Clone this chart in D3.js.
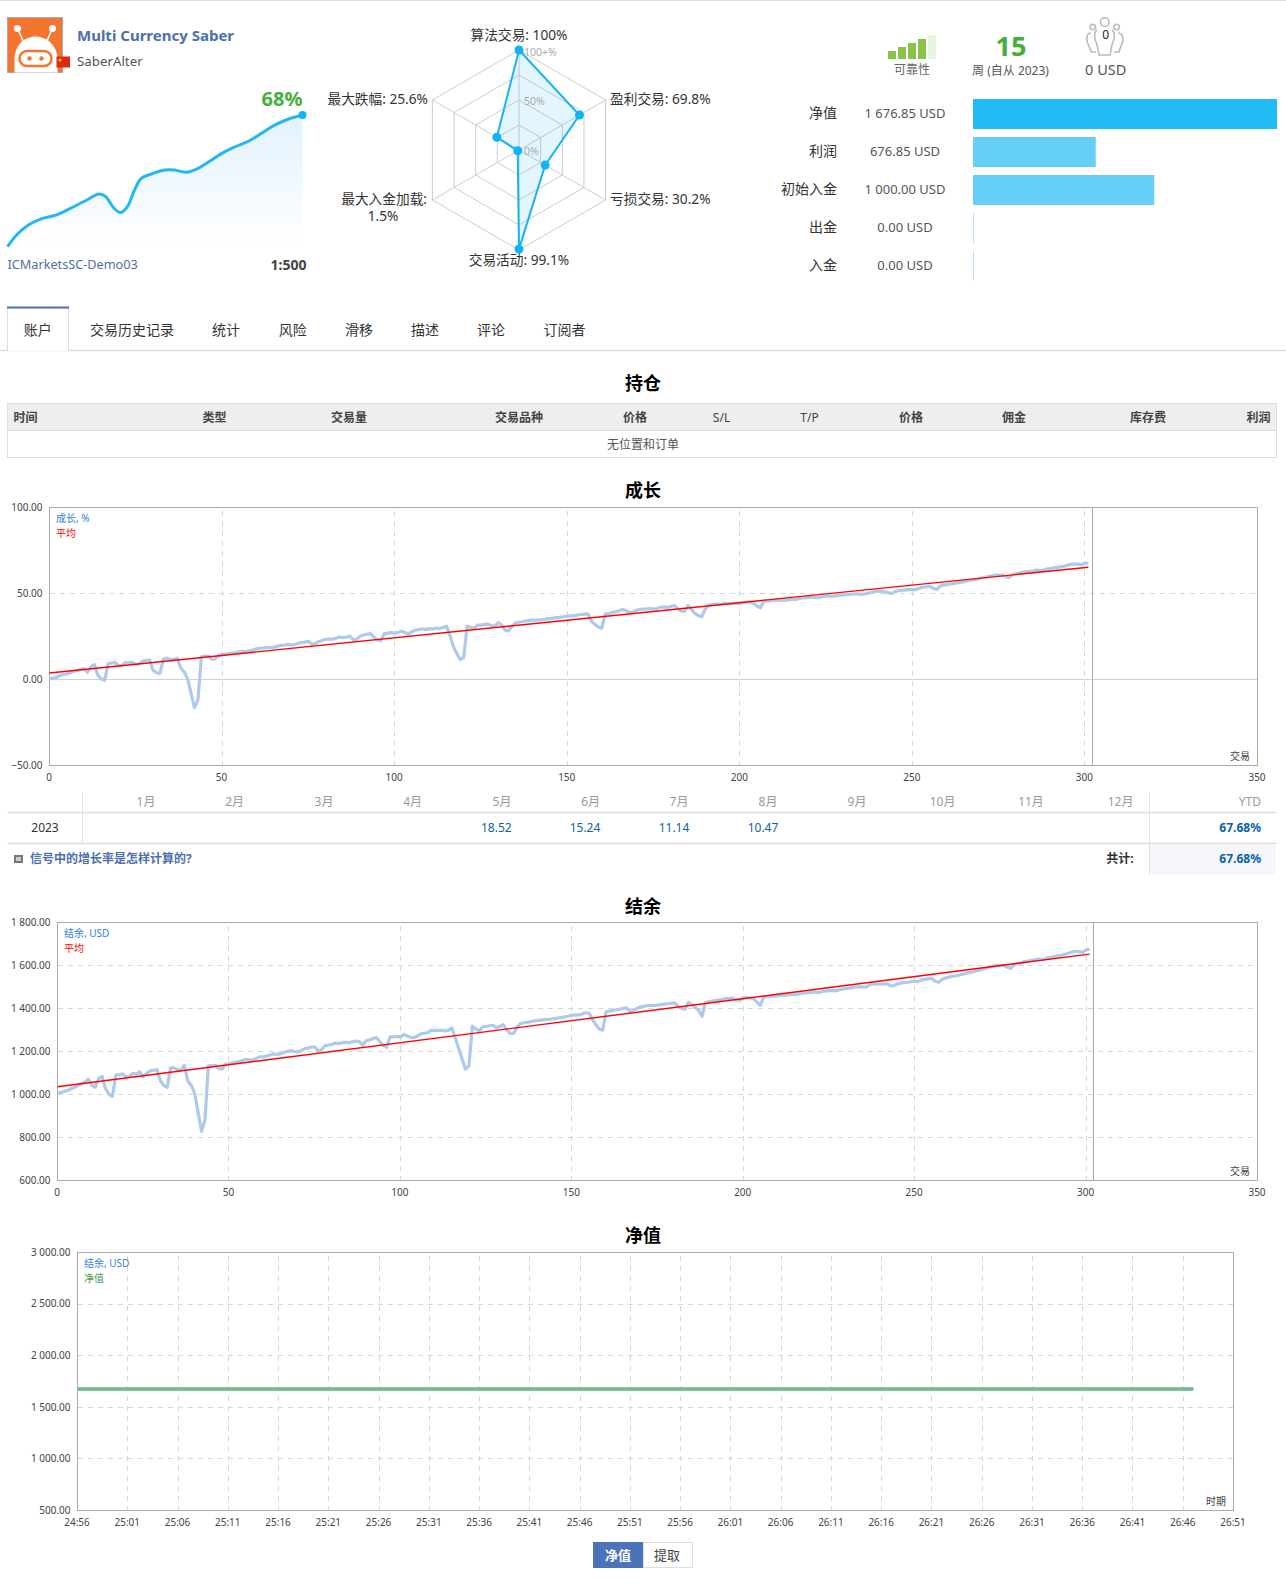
<!DOCTYPE html>
<html>
<head>
<meta charset="utf-8">
<script src="https://cdn.jsdelivr.net/npm/d3@7"></script>
<style>
	html, body { margin: 0; padding: 0; background: #fff; }
	svg { display: block; }
	text { font-family: "Noto Sans", "Noto Sans CJK SC", sans-serif; }
</style>
</head>
<body>
<div id="datavis"></div>
<script>

// Header
var signalTitle = "Multi Currency Saber";
var signalAuthor = "SaberAlter";
var signalServer = "ICMarketsSC-Demo03";
var signalLeverage = "1:500";
var signalGrowth = "68%";

// Sparkline (week, growth %)
var sparkWeeks = [0, 0.46, 1.06, 1.78, 2.5, 3.2, 3.94, 4.66, 5, 5.38, 5.74, 6.1, 6.46, 6.8, 7.3, 8, 8.5, 9.1, 9.7, 10.3, 10.9, 11.5, 12.3, 12.9, 13.5, 14.26, 15];
var sparkValues = [0, 6, 11.2, 14.6, 16.4, 19.8, 23.6, 27.2, 25.8, 20.3, 17.6, 20.7, 29.3, 35.3, 37.5, 39.6, 39.6, 38.4, 40.5, 44.2, 48.2, 51.3, 54.7, 58.5, 62.3, 65.8, 68];

// Radar
var radarLabels = ["算法交易: 100%", "盈利交易: 69.8%", "亏损交易: 30.2%", "交易活动: 99.1%", "最大入金加载:", "最大跌幅: 25.6%"];
var radarValues = [100, 69.8, 30.2, 99.1, 1.5, 25.6];
var radarRings = [25, 50, 75, 100];

// Reliability and counters
var reliabilityLevels = [2, 3, 4, 5, 6];
var balanceNames = ["净值", "利润", "初始入金", "出金", "入金"];
var balanceTexts = ["1 676.85 USD", "676.85 USD", "1 000.00 USD", "0.00 USD", "0.00 USD"];
var balanceAmounts = [1676.85, 676.85, 1000, 0, 0];

// Tabs and positions table
var tabNames = ["账户", "交易历史记录", "统计", "风险", "滑移", "描述", "评论", "订阅者"];
var tableHeads = ["时间", "类型", "交易量", "交易品种", "价格", "S/L", "T/P", "价格", "佣金", "库存费", "利润"];

// Monthly table
var monthNames = ["1月", "2月", "3月", "4月", "5月", "6月", "7月", "8月", "9月", "10月", "11月", "12月"];
var monthValues = ["", "", "", "", "18.52", "15.24", "11.14", "10.47", "", "", "", ""];

// Growth chart, one value per trade
var growthValues = [
	0.5, 0.8, 1.2, 2.3, 2.9, 3.2, 3.9, 4.8, 5.2, 5.8,
	6.4, 4.2, 7.4, 8.7, 2.5, 0.3, -0.4, 9.3, 9.5, 9.9,
	8, 8.2, 9.9, 9.7, 10, 8.7, 9, 10.7, 11.2, 11.3,
	5.4, 3.9, 3.5, 11.8, 12.4, 11.6, 11.6, 12.4, 6.8, 4.5,
	0.6, -8, -16.3, -12, 13.2, 13.6, 13.8, 11.8, 12, 14,
	14.5, 14.8, 15.1, 15.3, 15.6, 16.2, 16.4, 16.2, 16.8, 17.1,
	17.9, 18.2, 18.4, 18.7, 18.6, 18.8, 19.4, 19.8, 19.9, 20.4,
	20, 20.3, 20.9, 21.5, 21.7, 22.2, 20.6, 20.9, 22.1, 22.7,
	23.4, 23.5, 23.4, 24, 24.7, 24.3, 24.6, 25.3, 23.1, 23.3,
	25.2, 25.9, 26.3, 26.7, 24.6, 22.9, 22.5, 26.7, 27, 27.3,
	27, 27.4, 28, 27.2, 26.4, 27.8, 28.7, 29, 29.5, 29,
	29.6, 29.3, 29.9, 29.6, 30.2, 31, 25.8, 19.3, 15.2, 11.6,
	12.8, 31, 30.3, 29.6, 31.6, 31.6, 31.9, 32.2, 31.4, 31,
	33.1, 31.8, 28.7, 28.3, 31, 32.9, 33.3, 33.6, 34, 34.4,
	34.5, 34.5, 34.7, 34.9, 35.2, 35.4, 35.7, 36, 36.1, 36.5,
	36.9, 37, 37.1, 37.5, 37.8, 38, 38.2, 34, 32, 30.6,
	29.8, 38, 38.4, 38.9, 39.4, 39.9, 40.7, 40, 39.1, 39.2,
	40.2, 40.7, 40.9, 41, 41.3, 41, 41.3, 42, 42.2, 41.8,
	42.5, 43, 41.4, 39.7, 39.7, 43, 40.8, 38.4, 37.2, 36.4,
	41, 43.2, 43.5, 43.8, 43.9, 44, 44.2, 44, 44.3, 44.4,
	44.4, 44.6, 45, 45, 44.4, 42.7, 41.7, 45.7, 45.6, 45.8,
	46, 46, 46.2, 46.3, 46.2, 46.5, 46.5, 46.9, 47.5, 47.5,
	47.7, 48, 47.5, 47.8, 48.1, 48.4, 48.5, 48.5, 48.8, 49,
	49.2, 49.4, 49.5, 49.7, 49.8, 49.5, 49.6, 50.1, 50.6, 51.2,
	51.3, 51.4, 51, 50.4, 50, 51.1, 51.6, 51.8, 52.1, 52.3,
	52.4, 52.2, 53.2, 53.6, 53.9, 54.3, 53, 52.3, 54.3, 54.9,
	55.2, 55.6, 55.8, 56.2, 56.6, 56.9, 57.4, 57.7, 58.1, 58.4,
	59, 59.4, 59.9, 60.3, 60.7, 60.6, 60.7, 59.8, 59.3, 61,
	61.5, 61.9, 62.4, 62.7, 62.9, 63.2, 63.6, 63.3, 63.6, 64.3,
	64.5, 64.9, 65.2, 65.5, 65.9, 66.4, 67, 67.2, 67.1, 66.7,
	67.6, 67.68
];
var growthTrendX = [0, 301];
var growthTrendY = [3.8, 65.3];

// Balance chart, one value per trade
var balanceValues = [
	1005, 1010, 1014, 1020, 1027, 1034, 1042, 1050, 1057, 1071,
	1043, 1033, 1074, 1084, 1028, 1002, 991, 1090, 1091, 1096,
	1082, 1084, 1099, 1095, 1105, 1084, 1098, 1110, 1113, 1116,
	1064, 1042, 1033, 1124, 1124, 1115, 1114, 1136, 1063, 1043,
	1005, 917, 829, 881, 1133, 1135, 1136, 1121, 1118, 1141,
	1143, 1147, 1150, 1153, 1158, 1164, 1160, 1161, 1168, 1175,
	1175, 1179, 1184, 1189, 1187, 1189, 1195, 1200, 1203, 1200,
	1198, 1204, 1212, 1216, 1220, 1222, 1203, 1208, 1226, 1230,
	1233, 1239, 1237, 1240, 1243, 1240, 1245, 1248, 1246, 1229,
	1250, 1254, 1260, 1265, 1245, 1229, 1220, 1268, 1268, 1270,
	1268, 1279, 1272, 1266, 1265, 1272, 1282, 1285, 1288, 1298,
	1297, 1298, 1299, 1296, 1298, 1310, 1264, 1215, 1165, 1118,
	1132, 1318, 1305, 1296, 1315, 1317, 1320, 1322, 1310, 1316,
	1325, 1300, 1284, 1284, 1310, 1330, 1333, 1336, 1339, 1342,
	1345, 1346, 1348, 1350, 1351, 1353, 1356, 1359, 1361, 1364,
	1369, 1369, 1370, 1374, 1380, 1379, 1350, 1325, 1304, 1299,
	1385, 1388, 1391, 1394, 1397, 1400, 1403, 1385, 1392, 1400,
	1408, 1410, 1413, 1415, 1413, 1416, 1418, 1420, 1422, 1424,
	1426, 1410, 1400, 1397, 1428, 1418, 1405, 1392, 1364, 1428,
	1432, 1435, 1438, 1440, 1443, 1447, 1446, 1448, 1440, 1437,
	1451, 1450, 1450, 1445, 1430, 1415, 1454, 1455, 1456, 1458,
	1459, 1461, 1462, 1463, 1465, 1464, 1467, 1470, 1472, 1474,
	1476, 1477, 1473, 1478, 1481, 1483, 1484, 1482, 1487, 1490,
	1493, 1495, 1498, 1500, 1502, 1499, 1500, 1512, 1513, 1513,
	1514, 1515, 1515, 1505, 1506, 1514, 1518, 1520, 1522, 1525,
	1527, 1525, 1533, 1536, 1538, 1540, 1527, 1522, 1535, 1542,
	1546, 1550, 1552, 1556, 1560, 1563, 1568, 1571, 1575, 1578,
	1584, 1588, 1593, 1597, 1601, 1600, 1601, 1592, 1587, 1604,
	1609, 1613, 1618, 1621, 1623, 1626, 1630, 1627, 1630, 1637,
	1639, 1643, 1646, 1649, 1653, 1658, 1664, 1666, 1665, 1661,
	1672, 1676.85
];
var balanceTrendX = [0, 301];
var balanceTrendY = [1036, 1653];

// Equity chart
var equityTicks = ["24:56", "25:01", "25:06", "25:11", "25:16", "25:21", "25:26", "25:31", "25:36", "25:41", "25:46", "25:51", "25:56",
	"26:01", "26:06", "26:11", "26:16", "26:21", "26:26", "26:31", "26:36", "26:41", "26:46", "26:51"];
var equitySteps = [0, 22.2];
var equityBalance = [1676.85, 1676.85];
var equityLevel = [1676.85, 1676.85];

// Width and Height of SVG
var w = 1286;
var h = 1593;

var svg = d3.select("#datavis")
	.append("svg")
	.attr("width", w)
	.attr("height", h);

var priceFormat = d3.formatLocale({ decimal: ".", thousands: " ", grouping: [3], currency: ["", ""] }).format(",.2f");

var defs = svg.append("defs");
var grad = defs.append("linearGradient")
	.attr("id", "sparkFill")
	.attr("x1", 0).attr("x2", 0).attr("y1", 0).attr("y2", 1);
grad.append("stop").attr("offset", "0%").attr("stop-color", "#e2f1fe");
grad.append("stop").attr("offset", "100%").attr("stop-color", "#ffffff");

// Small helper for plain text
var put = function(x, y, str, size, color, anchor, weight) {
	return svg.append("text")
		.attr("x", x)
		.attr("y", y)
		.attr("dy", "0.35em")
		.attr("font-size", size)
		.attr("fill", color)
		.attr("text-anchor", anchor || "start")
		.attr("font-weight", weight || "normal")
		.text(str);
};

var hline = function(x1, x2, y, color, width) {
	svg.append("line").attr("x1", x1).attr("x2", x2).attr("y1", y).attr("y2", y)
		.attr("stroke", color).attr("stroke-width", width || 1);
};

var vline = function(x, y1, y2, color) {
	svg.append("line").attr("x1", x).attr("x2", x).attr("y1", y1).attr("y2", y2)
		.attr("stroke", color).attr("stroke-width", 1);
};

hline(0, w, 0.5, "#dddddd");

// Logo
var logo = svg.append("g").attr("transform", "translate(7.5,17.5)");
logo.append("rect").attr("width", 55).attr("height", 55).attr("fill", "#f3752f").attr("stroke", "#aaaaaa");
logo.append("path").attr("d", "M11 13L18 29M44 13L37 29").attr("stroke", "#fff").attr("stroke-width", 1.6);
logo.append("circle").attr("cx", 10).attr("cy", 11).attr("r", 3.5).attr("fill", "#fff");
logo.append("circle").attr("cx", 45).attr("cy", 11).attr("r", 3.5).attr("fill", "#fff");
logo.append("path").attr("d", "M7 55V42C7 28 17 19 28 19C39 19 50 28 50 42V55Z").attr("fill", "#fff");
logo.append("rect").attr("x", 12).attr("y", 33.5).attr("width", 32).attr("height", 15).attr("rx", 7.5)
	.attr("fill", "#fff").attr("stroke", "#f3752f").attr("stroke-width", 2.5);
logo.append("circle").attr("cx", 22).attr("cy", 41).attr("r", 2.2).attr("fill", "#f3752f");
logo.append("circle").attr("cx", 34).attr("cy", 41).attr("r", 2.2).attr("fill", "#f3752f");

svg.append("rect").attr("x", 56.5).attr("y", 56.5).attr("width", 13.5).attr("height", 11).attr("fill", "#de2910");
svg.append("circle").attr("cx", 60).attr("cy", 60).attr("r", 1.5).attr("fill", "#ffde00");

put(77, 35.5, signalTitle, 15, "#4c6fae", "start", "bold");
put(77, 61.5, signalAuthor, 13.3, "#555555");
put(302.5, 98.5, signalGrowth, 20, "#45ae3d", "end", "bold");
put(7.5, 265, signalServer, 12.7, "#52709f");
put(306.5, 265, signalLeverage, 14, "#444444", "end", "bold");

// Sparkline
var sparkX = d3.scaleLinear().domain([0, 15]).range([7.5, 302.5]);
var sparkY = d3.scaleLinear().domain([0, 68]).range([246.7, 115]);

var sparkArea = d3.area()
	.x(function(d, i) { return sparkX(sparkWeeks[i]); })
	.y0(sparkY(0))
	.y1(function(d) { return sparkY(d); })
	.curve(d3.curveCatmullRom);

var sparkLine = d3.line()
	.x(function(d, i) { return sparkX(sparkWeeks[i]); })
	.y(function(d) { return sparkY(d); })
	.curve(d3.curveCatmullRom);

svg.append("path").attr("d", sparkArea(sparkValues)).attr("fill", "url(#sparkFill)");
svg.append("path").attr("d", sparkLine(sparkValues)).attr("fill", "none").attr("stroke", "#23b7f2").attr("stroke-width", 3);
svg.append("circle")
	.attr("cx", sparkX(sparkWeeks[sparkWeeks.length - 1]))
	.attr("cy", sparkY(sparkValues[sparkValues.length - 1]))
	.attr("r", 4)
	.attr("fill", "#0fb4f2");

// Radar
var radar = svg.append("g").attr("transform", "translate(519,150)");
var radarR = d3.scaleLinear().domain([0, 100]).range([0, 100]);
var radarA = function(i) { return i * Math.PI / 3; };

radarRings.forEach(function(ring) {
	var ringLine = d3.lineRadial()
		.angle(function(d, i) { return radarA(i); })
		.radius(radarR(ring))
		.curve(d3.curveLinearClosed);
	radar.append("path").attr("d", ringLine(radarValues)).attr("fill", "none").attr("stroke", "#cccccc");
});

radarValues.forEach(function(d, i) {
	var p = d3.pointRadial(radarA(i), radarR(100));
	radar.append("line").attr("x1", 0).attr("y1", 0).attr("x2", p[0]).attr("y2", p[1]).attr("stroke", "#cccccc");
});

var radarLine = d3.lineRadial()
	.angle(function(d, i) { return radarA(i); })
	.radius(function(d) { return radarR(d); })
	.curve(d3.curveLinearClosed);

radar.append("path")
	.attr("d", radarLine(radarValues))
	.attr("fill", "#19b4f0")
	.attr("fill-opacity", 0.12)
	.attr("stroke", "#19b4f0")
	.attr("stroke-width", 2);

radar.selectAll("circle")
	.data(radarValues)
	.enter()
	.append("circle")
	.attr("cx", function(d, i) { return d3.pointRadial(radarA(i), radarR(d))[0]; })
	.attr("cy", function(d, i) { return d3.pointRadial(radarA(i), radarR(d))[1]; })
	.attr("r", 4.5)
	.attr("fill", "#0fb4f2");

put(524, 52, "100+%", 10.5, "#aaaaaa");
put(524, 101.7, "50%", 10.5, "#aaaaaa");
put(524, 151.7, "0%", 10.5, "#aaaaaa");

put(519, 35, radarLabels[0], 13.7, "#333333", "middle");
put(610, 99.3, radarLabels[1], 13.7, "#333333");
put(610, 199.3, radarLabels[2], 13.7, "#333333");
put(519, 260, radarLabels[3], 13.7, "#333333", "middle");
put(427, 199.3, radarLabels[4], 13.7, "#333333", "end");
put(383, 216.5, "1.5%", 13.7, "#333333", "middle");
put(428, 99.3, radarLabels[5], 13.7, "#333333", "end");

// Reliability bars
var relX = d3.scaleBand().domain(d3.range(reliabilityLevels.length)).range([888, 936]).paddingInner(0.2);
var relY = d3.scaleLinear().domain([0, 6]).range([59, 35]);

svg.selectAll("rect.rel")
	.data(reliabilityLevels)
	.enter()
	.append("rect")
	.attr("class", "rel")
	.attr("x", function(d, i) { return relX(i); })
	.attr("y", function(d) { return relY(d); })
	.attr("width", relX.bandwidth())
	.attr("height", function(d) { return relY(0) - relY(d); })
	.attr("fill", function(d, i) { return i < 4 ? "#8bc34a" : "#e7f3dc"; });

put(912, 70, "可靠性", 12, "#666666", "middle");
put(1011, 46.5, "15", 27, "#45ae3d", "middle", "bold");
put(1010.5, 70.5, "周 (自从 2023)", 12, "#555555", "middle");

// Subscribers icon
var people = svg.append("g").attr("fill", "none").attr("stroke", "#bbbbbb").attr("stroke-width", 1.6);
people.append("circle").attr("cx", 1104.7).attr("cy", 22).attr("r", 4.3);
people.append("circle").attr("cx", 1092.8).attr("cy", 27).attr("r", 2.8);
people.append("circle").attr("cx", 1116.6).attr("cy", 27).attr("r", 2.8);
people.append("path").attr("d", "M1097 30C1094 32 1094 38 1096 42C1098 46 1098 52 1099 55H1110C1111 52 1111 46 1113 42C1115 38 1115 32 1112 30");
people.append("path").attr("d", "M1091 33C1087 33 1086.5 37 1087 41C1088 45 1090 47 1091 52H1096");
people.append("path").attr("d", "M1118 33C1122 33 1123.5 37 1123 41C1122 45 1120 47 1119 52H1114");
put(1105.7, 35, "0", 12, "#222222", "middle");
put(1105.7, 69.7, "0 USD", 14.5, "#555555", "middle");

// Balance bars
var barScale = d3.scaleLinear().domain([0, 1676.85]).range([0, 304]);
var barY = d3.scaleBand().domain(d3.range(balanceNames.length)).range([99, 281]).paddingInner(8 / 38);
var barColors = ["#22bbf5", "#66cff7", "#66cff7", "#b5e3f7", "#b5e3f7"];

svg.selectAll("rect.amount")
	.data(balanceAmounts)
	.enter()
	.append("rect")
	.attr("class", "amount")
	.attr("x", 973)
	.attr("y", function(d, i) { return barY(i); })
	.attr("width", function(d) { return Math.max(1, barScale(d)); })
	.attr("height", barY.bandwidth())
	.attr("fill", function(d, i) { return barColors[i]; });

balanceNames.forEach(function(name, i) {
	var cy = barY(i) + barY.bandwidth() / 2 - 0.7;
	put(837, cy, name, 14, "#333333", "end");
	put(905, cy, balanceTexts[i], 13, "#555555", "middle");
});

// Tabs
hline(0, w, 350.5, "#dddddd", 1.5);
svg.append("path").attr("d", "M7.5 351V308H68.5V351").attr("fill", "#fff").attr("stroke", "#dddddd");
svg.append("rect").attr("x", 7).attr("y", 306.5).attr("width", 62).attr("height", 2).attr("fill", "#4b74b8");

var tabX = [37.7, 132, 226, 292.7, 359, 425, 491, 564.5];
tabNames.forEach(function(name, i) {
	put(tabX[i], 330, name, 14, "#333333", "middle");
});

// Positions table
put(643, 383.5, "持仓", 18, "#000000", "middle", "bold");
svg.append("rect").attr("x", 7.5).attr("y", 403.5).attr("width", 1269).attr("height", 27).attr("fill", "#eeeeee").attr("stroke", "#dddddd");
svg.append("rect").attr("x", 7.5).attr("y", 430.5).attr("width", 1269).attr("height", 27).attr("fill", "#ffffff").attr("stroke", "#dddddd");

var headX = [13.5, 214.5, 349, 519, 635, 721.5, 809.5, 911, 1014, 1148, 1270.5];
var headAnchor = ["start", "middle", "middle", "middle", "middle", "middle", "middle", "middle", "middle", "middle", "end"];
tableHeads.forEach(function(name, i) {
	var latin = name === "S/L" || name === "T/P";
	put(headX[i], 417.5, name, 12, "#444444", headAnchor[i], latin ? "normal" : "bold");
});
put(643, 444.3, "无位置和订单", 12, "#555555", "middle");

// Line charts with the MQL5 look
var drawChart = function(cfg) {

	var x = d3.scaleLinear().domain(cfg.xDomain).range([cfg.left, cfg.right]);
	var y = d3.scaleLinear().domain(cfg.yDomain).range([cfg.bottom, cfg.top]);

	var xAxis = d3.axisBottom(x)
		.tickValues(cfg.xTicks)
		.tickFormat(cfg.xFormat)
		.tickSize(-(cfg.bottom - cfg.top))
		.tickPadding(8)
		.offset(0);

	var yAxis = d3.axisLeft(y)
		.tickValues(cfg.yTicks)
		.tickFormat(priceFormat)
		.tickSize(-(cfg.right - cfg.left))
		.tickPadding(7)
		.offset(0);

	var gx = svg.append("g").attr("transform", "translate(0," + cfg.bottom + ")").call(xAxis);
	var gy = svg.append("g").attr("transform", "translate(" + cfg.left + ",0)").call(yAxis);

	gx.select(".domain").remove();
	gy.select(".domain").remove();

	gx.selectAll("text").attr("font-size", 10).attr("fill", "#444444").attr("dx", -0.5);
	gy.selectAll("text").attr("font-size", 10).attr("fill", "#444444");

	gx.selectAll("line")
		.attr("stroke", "#d6d6d6")
		.attr("stroke-dasharray", "5,5")
		.attr("shape-rendering", "crispEdges")
		.attr("display", function(d) { return (d === cfg.xDomain[0] || d === cfg.xDomain[1]) ? "none" : null; });

	gy.selectAll("line")
		.attr("stroke", function(d) { return d === cfg.solidY ? "#d0d0d0" : "#d6d6d6"; })
		.attr("stroke-dasharray", function(d) { return d === cfg.solidY ? null : "5,5"; })
		.attr("shape-rendering", "crispEdges")
		.attr("display", function(d) { return (d === cfg.yDomain[0] || d === cfg.yDomain[1]) ? "none" : null; });

	svg.append("rect")
		.attr("x", cfg.left)
		.attr("y", cfg.top)
		.attr("width", cfg.right - cfg.left)
		.attr("height", cfg.bottom - cfg.top)
		.attr("fill", "none")
		.attr("stroke", "#aaaaaa")
		.attr("shape-rendering", "crispEdges");

	if (cfg.mark !== undefined) {
		vline(Math.round(x(cfg.mark)) + 0.5, cfg.top, cfg.bottom, "#aaaaaa");
	}

	cfg.series.forEach(function(s) {
		var line = d3.line()
			.x(function(d, i) { return x(s.xs ? s.xs[i] : i); })
			.y(function(d) { return y(d); });
		svg.append("path")
			.attr("d", line(s.values))
			.attr("fill", "none")
			.attr("stroke", s.color)
			.attr("stroke-width", s.width)
			.attr("stroke-linejoin", "round");
	});

	put(cfg.left + 6.5, cfg.top + 11, cfg.legend[0], 10, "#2f80e0");
	put(cfg.left + 6.5, cfg.top + 26, cfg.legend[1], 10, cfg.legendColor);
	put(cfg.right - 7.5, cfg.bottom - 8.6, cfg.axisName, 10, "#444444", "end");
};

// Growth
put(643, 491, "成长", 18, "#000000", "middle", "bold");
drawChart({
	left: 49.5, right: 1257.5, top: 507.5, bottom: 765.5,
	xDomain: [0, 350], yDomain: [-50, 100],
	xTicks: [0, 50, 100, 150, 200, 250, 300, 350],
	yTicks: [-50, 0, 50, 100],
	xFormat: d3.format("d"),
	solidY: 0,
	mark: 302,
	series: [
		{ values: growthValues, color: "#aecaea", width: 3.2 },
		{ values: growthTrendY, xs: growthTrendX, color: "#ff0000", width: 1.4 }
	],
	legend: ["成长, %", "平均"],
	legendColor: "#ff0000",
	axisName: "交易"
});

// Monthly table
var monthX = [146, 234.6, 324, 412.6, 502, 590.6, 679, 768, 857, 942.6, 1031, 1120.6];
monthNames.forEach(function(name, i) {
	put(monthX[i], 801.5, name, 12, "#999999", "middle");
});
put(1261, 801.5, "YTD", 12, "#999999", "end");
hline(7.5, 1276, 812.5, "#dddddd", 1.5);
hline(7.5, 1276, 843.5, "#dddddd", 1.5);
vline(82.5, 792, 843, "#e2e2e2");
vline(1149.5, 792, 875, "#e2e2e2");
svg.append("rect").attr("x", 1150).attr("y", 844.5).attr("width", 126).attr("height", 30).attr("fill", "#f5f7fc");

put(45, 827.5, "2023", 12, "#333333", "middle");
var monthValueX = [0, 0, 0, 0, 496.3, 585, 674, 763, 0, 0, 0, 0];
monthValues.forEach(function(val, i) {
	if (val) { put(monthValueX[i], 827.5, val, 12, "#0b62a8", "middle"); }
});
put(1261, 827.5, "67.68%", 12, "#0b62a8", "end", "bold");

svg.append("rect").attr("x", 14).attr("y", 855).attr("width", 9).attr("height", 8).attr("fill", "#777777");
svg.append("rect").attr("x", 16).attr("y", 857).attr("width", 5).attr("height", 4).attr("fill", "#cccccc");
put(30, 859, "信号中的增长率是怎样计算的?", 12, "#4c6fae", "start", "bold");
put(1133.5, 859, "共计:", 12, "#333333", "end", "bold");
put(1261, 859, "67.68%", 12, "#0b62a8", "end", "bold");

// Balance
put(643, 906.5, "结余", 18, "#000000", "middle", "bold");
drawChart({
	left: 57.5, right: 1257.5, top: 922.5, bottom: 1180.5,
	xDomain: [0, 350], yDomain: [600, 1800],
	xTicks: [0, 50, 100, 150, 200, 250, 300, 350],
	yTicks: [600, 800, 1000, 1200, 1400, 1600, 1800],
	xFormat: d3.format("d"),
	mark: 302,
	series: [
		{ values: balanceValues, color: "#aecaea", width: 3.2 },
		{ values: balanceTrendY, xs: balanceTrendX, color: "#ff0000", width: 1.4 }
	],
	legend: ["结余, USD", "平均"],
	legendColor: "#ff0000",
	axisName: "交易"
});

// Equity
put(643, 1235.5, "净值", 18, "#000000", "middle", "bold");
drawChart({
	left: 77.5, right: 1233.5, top: 1252.5, bottom: 1510.5,
	xDomain: [0, equityTicks.length - 1], yDomain: [500, 3000],
	xTicks: d3.range(equityTicks.length),
	yTicks: [500, 1000, 1500, 2000, 2500, 3000],
	xFormat: function(d) { return equityTicks[d]; },
	series: [
		{ values: equityBalance, xs: equitySteps, color: "#86bfe8", width: 4 },
		{ values: equityLevel, xs: equitySteps, color: "#7dbb6c", width: 2.4 }
	],
	legend: ["结余, USD", "净值"],
	legendColor: "#4a9a4a",
	axisName: "时期"
});

// Bottom buttons
svg.append("rect").attr("x", 593).attr("y", 1542).attr("width", 50).attr("height", 26).attr("fill", "#4b74b8");
svg.append("rect").attr("x", 643.5).attr("y", 1542.5).attr("width", 49).attr("height", 25).attr("fill", "#fff").attr("stroke", "#dddddd");
put(618, 1555, "净值", 13, "#ffffff", "middle", "bold");
put(667, 1555, "提取", 13, "#444444", "middle");

</script>
</body>
</html>
